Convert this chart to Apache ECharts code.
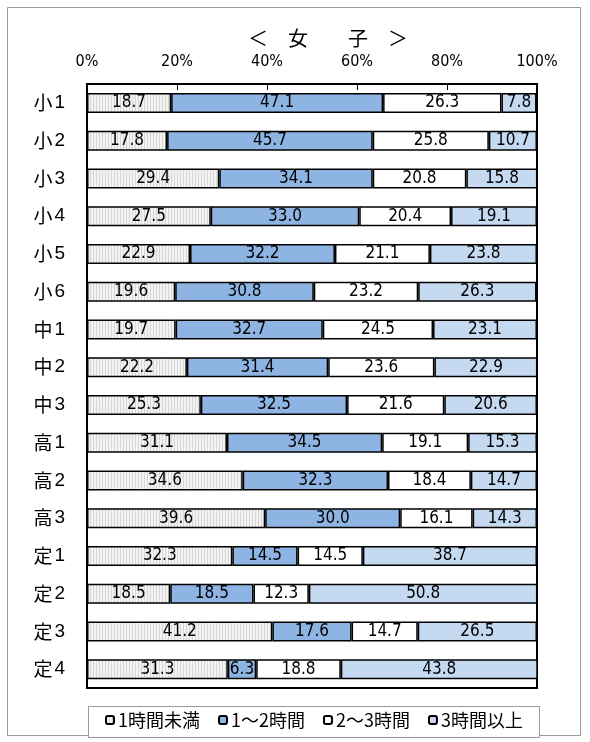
<!DOCTYPE html>
<html><head><meta charset="utf-8">
<script src="https://cdn.jsdelivr.net/npm/echarts@6/dist/echarts.min.js"></script>
<style>html,body{margin:0;padding:0;background:#fff}#c{width:590px;height:742px}</style>
</head><body><div id="c"></div>
<script>
const categories = ['小1','小2','小3','小4','小5','小6','中1','中2','中3','高1','高2','高3','定1','定2','定3','定4'];
const seriesNames = ['1時間未満','1～2時間','2～3時間','3時間以上'];
const under1 = [18.7,17.8,29.4,27.5,22.9,19.6,19.7,22.2,25.3,31.1,34.6,39.6,32.3,18.5,41.2,31.3];
const h1to2  = [47.1,45.7,34.1,33.0,32.2,30.8,32.7,31.4,32.5,34.5,32.3,30.0,14.5,18.5,17.6,6.3];
const h2to3  = [26.3,25.8,20.8,20.4,21.1,23.2,24.5,23.6,21.6,19.1,18.4,16.1,14.5,12.3,14.7,18.8];
const over3  = [7.8,10.7,15.8,19.1,23.8,26.3,23.1,22.9,20.6,15.3,14.7,14.3,38.7,50.8,26.5,43.8];
const tickLabels = ['0%','20%','40%','60%','80%','100%'];

const pc = document.createElement('canvas');
pc.width = 3; pc.height = 3;
const pctx = pc.getContext('2d');
pctx.fillStyle = '#f3f3f3'; pctx.fillRect(0,0,3,3);
pctx.fillStyle = '#d6d6d6'; pctx.fillRect(0,0,1,3);

const fills = [{image: pc, repeat: 'repeat'}, '#8db4e2', '#ffffff', '#c5d9f1'];
const data = [under1, h1to2, h2to3, over3];
const font = '"Noto Sans CJK JP", "Liberation Sans", sans-serif';
const numFont = '"Liberation Sans Narrow", "DejaVu Sans Condensed", "Liberation Sans", sans-serif';

const chart = echarts.init(document.getElementById('c'));
chart.setOption({
  animation: false,
  graphic: [
    {type:'rect', shape:{x:7.5,y:7.5,width:573,height:728}, style:{fill:'none', stroke:'#9a9a9a', lineWidth:1}, z:-1},
    {type:'rect', shape:{x:88.5,y:706.5,width:451,height:31}, style:{fill:'#fff', stroke:'#999', lineWidth:1}, z:-1}
  ],
  title: {text: '＜　女　　子　＞', left: 323, textAlign: 'center', top: 23,
    textStyle: {fontFamily: font, fontSize: 20, fontWeight: 'normal', color: '#000'}},
  legend: {top: 711, left: 105, padding: [0,0,0,0], itemGap: 18, itemWidth: 8, itemHeight: 8,
    textStyle: {fontFamily: font, fontSize: 18, color: '#000', padding: [0,0,0,-1]},
    data: seriesNames},
  grid: {left: 87, top: 84, width: 450, height: 604, show: true, borderColor: '#000', borderWidth: 2, backgroundColor: '#fff'},
  xAxis: {type: 'value', position: 'top', min: 0, max: 100, interval: 20,
    axisLine: {show: true, lineStyle: {color: '#000', width: 2}},
    axisTick: {show: true, inside: true, length: 6, lineStyle: {color: '#000', width: 1}},
    splitLine: {show: false},
    axisLabel: {formatter: v => tickLabels[v/20], fontFamily: numFont, fontSize: 16, color: '#000', margin: 14}},
  yAxis: {type: 'category', data: categories, inverse: true,
    axisLine: {show: true, lineStyle: {color: '#000', width: 2}},
    axisTick: {show: false},
    axisLabel: {fontFamily: font, color: '#000', margin: 22,
      formatter: v => '{a|' + v.charAt(0) + '}{b|' + v.slice(1) + '}',
      rich: {a: {fontFamily: font, fontSize: 19, color: '#000'},
             b: {fontFamily: '"Liberation Sans", sans-serif', fontSize: 19, color: '#000', padding: [0,0,0,2]}}}},
  series: data.map((d, i) => ({
    name: seriesNames[i], type: 'bar', stack: 'a', data: d, barWidth: 20,
    itemStyle: {color: fills[i], borderColor: '#000', borderWidth: 1.5},
    label: {show: true, position: 'inside', formatter: p => p.value.toFixed(1),
      fontFamily: numFont, fontSize: 17, color: '#000'}
  }))
});
</script></body></html>
